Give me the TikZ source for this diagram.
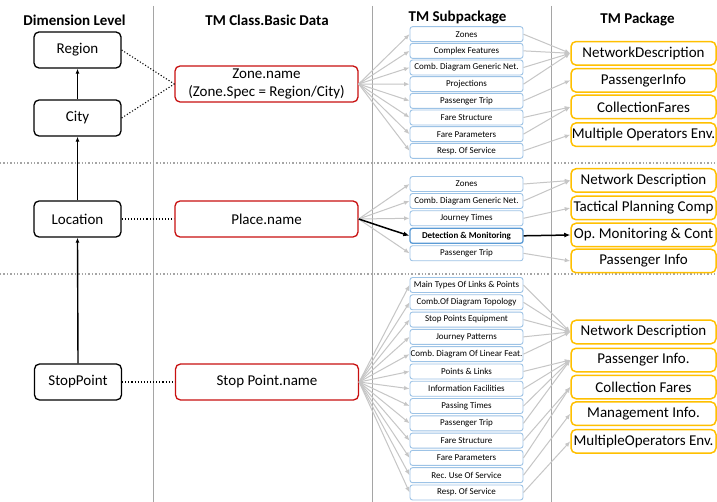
\documentclass[tikz,border=0pt]{standalone}
\usepackage{fontspec}
\setmainfont{Carlito}
\usetikzlibrary{arrows.meta}
\definecolor{cred}{RGB}{200,16,16}
\definecolor{cblue}{RGB}{157,195,230}
\definecolor{cblued}{RGB}{91,155,213}
\definecolor{cyel}{RGB}{255,192,0}
\definecolor{cgray}{RGB}{198,198,198}
\definecolor{csep}{RGB}{165,165,165}
\newcommand\pkt[1]{\makebox[141pt]{#1}}
\frenchspacing
\begin{document}
\begin{tikzpicture}[x=1pt,y=-1pt,
 hdr/.style={font=\fontsize{15}{18}\selectfont\bfseries},
 dimbox/.style={draw, rounded corners=5pt, line width=1.3pt, minimum width=87pt, minimum height=36pt, font=\fontsize{15}{18}\selectfont, inner sep=0pt},
 clsbox/.style={draw=cred, rounded corners=5pt, line width=1.3pt, minimum width=183pt, minimum height=36pt, font=\fontsize{15}{18}\selectfont, inner sep=0pt, align=center},
 subbox/.style={draw=cblue, rounded corners=2.5pt, line width=0.9pt, minimum width=113pt, minimum height=15pt, inner sep=0pt, font=\fontsize{9}{10}\selectfont, fill=white},
 pkgbox/.style={draw=cyel, rounded corners=5pt, line width=1.5pt, minimum height=23.5pt, minimum width=145pt, inner sep=0pt, font=\fontsize{15}{18}\selectfont, fill=white},
 upar/.style={-{Latex[length=5pt,width=4pt]}, line width=1.4pt},
 dotln/.style={dotted, line width=1.1pt},
 gar/.style={cgray, line width=1pt, -{Latex[length=5.5pt,width=4.5pt]}},
 bar/.style={black, line width=1.5pt, -{Latex[length=6pt,width=5pt]}},
 sep/.style={csep, line width=0.7pt},
 hsep/.style={csep, line width=1.4pt, dash pattern=on 1.4pt off 2pt}
]
\clip (0,0) rectangle (717,502);
\fill[white] (0,0) rectangle (717,502);
% separators
\draw[sep] (153,6) -- (153,502);
\draw[sep] (372.5,6) -- (372.5,502);
\draw[sep] (551,6) -- (551,502);
\draw[hsep] (0,163) -- (717,163);
\draw[hsep] (0,274) -- (717,274);
% headers
\node[hdr] (h1) at (74.5,20) {Dimension Level};
\node[hdr] (h2) at (267,20) {TM Class.Basic Data};
\node[hdr] (h3) at (457.5,17.5) {TM Subpackage};
\node[hdr] (h4) at (637.5,19.5) {TM Package};
% dimension level
\node[dimbox] (region) at (77.5,50) {Region};
\node[dimbox] (city) at (77.5,118) {City};
\node[dimbox] (loc) at (77.5,219) {Location};
\node[dimbox] (stop) at (78,382) {StopPoint};
\draw[upar] (city.north) -- (region.south);
\draw[upar] (loc.north) -- (city.south);
\draw[upar] (stop.north) -- (loc.south);
% class boxes
\node[clsbox] (zone) at (266.5,84) {Zone.name\\(Zone.Spec = Region/City)};
\node[clsbox] (place) at (266.5,219) {Place.name};
\node[clsbox] (spname) at (267,382) {Stop Point.name};
\draw[dotln] (region.east) -- (zone.west);
\draw[dotln] (city.east) -- (zone.west);
\draw[dotln] (loc.east) -- (place.west);
\draw[dotln] (stop.east) -- (spname.west);
% top subpackages
\foreach \t [count=\i] in {Zones,Complex Features,Comb. Diagram Generic Net.,Projections,Passenger Trip,Fare Structure,Fare Parameters,Resp. Of Service}
  \node[subbox] (t\i) at (466.5,{34.2+16.66*(\i-1)}) {\t};
% middle subpackages
\node[subbox] (m1) at (466.5,184) {Zones};
\node[subbox] (m2) at (466.5,201) {Comb. Diagram Generic Net.};
\node[subbox] (m3) at (466.5,218.3) {Journey Times};
\node[subbox, draw=cblued, line width=1.3pt, font=\fontsize{9}{10}\selectfont\bfseries] (m4) at (466.5,235.8) {Detection \& Monitoring};
\node[subbox] (m5) at (466.5,253.3) {Passenger Trip};
% bottom subpackages
\foreach \t [count=\i] in {Main Types Of Links \& Points,Comb.Of Diagram Topology,Stop Points Equipment,Journey Patterns,Comb. Diagram Of Linear Feat.,Points \& Links,Information Facilities,Passing Times,Passenger Trip,Fare Structure,Fare Parameters,Rec. Use Of Service,Resp. Of Service}
  \node[subbox] (b\i) at (466.5,{285+17.29*(\i-1)}) {\t};
% packages
\node[pkgbox] (pt1) at (643.5,53.3) {\pkt{NetworkDescription}};
\node[pkgbox] (pt2) at (643.5,80.3) {\pkt{PassengerInfo}};
\node[pkgbox] (pt3) at (643.5,107) {\pkt{CollectionFares}};
\node[pkgbox] (pt4) at (643.5,134.7) {\pkt{Multiple Operators Env.}};
\node[pkgbox] (pm1) at (643.5,180.5) {\pkt{Network Description}};
\node[pkgbox] (pm2) at (643.5,208) {\pkt{Tactical Planning Comp}};
\node[pkgbox] (pm3) at (643.5,235) {\pkt{Op. Monitoring \& Cont}};
\node[pkgbox] (pm4) at (643.5,261) {\pkt{Passenger Info}};
\node[pkgbox] (pb1) at (643.5,332) {\pkt{Network Description}};
\node[pkgbox] (pb2) at (643.5,360) {\pkt{Passenger Info.}};
\node[pkgbox] (pb3) at (643.5,387) {\pkt{Collection Fares}};
\node[pkgbox] (pb4) at (643.5,413.7) {\pkt{Management Info.}};
\node[pkgbox] (pb5) at (643.5,441.3) {\pkt{MultipleOperators Env.}};
% class -> subpackage
\foreach \i in {1,...,8} \draw[gar] (zone.east) -- (t\i.west);
\foreach \i in {1,2,3,5} \draw[gar] (place.east) -- (m\i.west);
\draw[bar] (place.east) -- (m4.west);
\foreach \i in {1,...,13} \draw[gar] (spname.east) -- (b\i.west);
% subpackage -> package
\foreach \i in {1,...,4} \draw[gar] (t\i.east) -- (pt1.west);
\draw[gar] (t5.east) -- (pt2.west);
\draw[gar] (t6.east) -- (pt3.west);
\draw[gar] (t7.east) -- (pt3.west);
\draw[gar] (t8.east) -- (pt4.west);
\draw[gar] (m1.east) -- (pm1.west);
\draw[gar] (m2.east) -- (pm1.west);
\draw[gar] (m3.east) -- (pm2.west);
\draw[bar] (m4.east) -- (pm3.west);
\draw[gar] (m5.east) -- (pm4.west);
\foreach \i in {1,...,5} \draw[gar] (b\i.east) -- (pb1.west);
\foreach \i in {6,...,9} \draw[gar] (b\i.east) -- (pb2.west);
\draw[gar] (b10.east) -- (pb3.west);
\draw[gar] (b11.east) -- (pb3.west);
\draw[gar] (b12.east) -- (pb4.west);
\draw[gar] (b13.east) -- (pb5.west);
\end{tikzpicture}
\end{document}
